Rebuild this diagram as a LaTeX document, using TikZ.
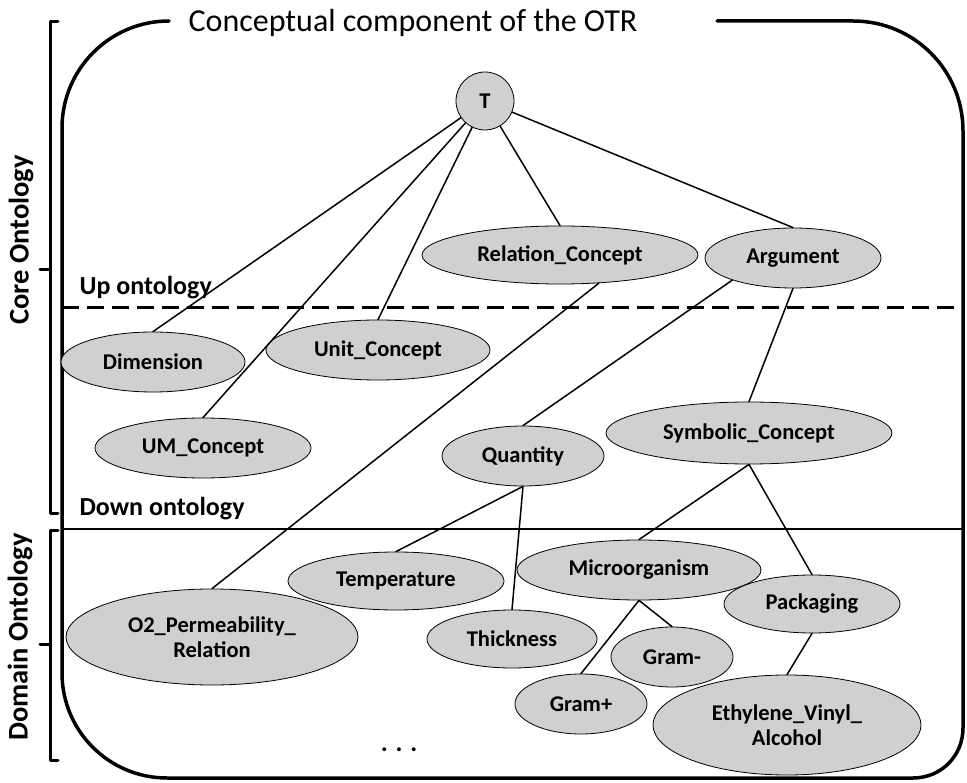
\documentclass[tikz,border=0pt]{standalone}
\usepackage{fontspec}
\setmainfont{Carlito}
\usetikzlibrary{shapes.geometric}
\definecolor{conceptgray}{RGB}{208,208,208}
\begin{document}
\begin{tikzpicture}[x=1pt,y=-1pt,line cap=round,line join=round]
	\tikzset{concept/.style={ellipse,draw,line width=.8pt,fill=conceptgray,inner sep=0pt,align=center,font=\fontsize{22.5}{25}\selectfont\bfseries},
	edge/.style={line width=1.5pt},
	frame/.style={line width=3.5pt},
	bracket/.style={line width=3pt},
	level style/.style={font=\fontsize{26}{30}\selectfont\bfseries},
	side style/.style={font=\fontsize{28.5}{32}\selectfont\bfseries,rotate=90}}
	\useasboundingbox (0,0) rectangle (967,783);
	% frame of the conceptual component
	\draw[frame] (717,21)--(853,21) .. controls (914,21) and (963,70) .. (963,131)--(963,728)
	.. controls (963,756) and (941,778) .. (913,778)--(167,778)
	.. controls (109,778) and (62,731) .. (62,673)--(62,128)
	.. controls (62,69) and (110,21) .. (169,21);
	\node[anchor=base,font=\fontsize{32}{36}\selectfont] (title) at (413,32) {Conceptual component of the OTR};
	% brackets
	\draw[bracket] (58,22)--(50,22)--(50,513)--(58,513) (50,270)--(40,270);
	\draw[bracket] (58,530)--(50,530)--(50,760)--(58,760) (50,644)--(40,644);
	\node[side style] (core) at (21,240) {Core Ontology};
	\node[side style] (domain) at (20,637) {Domain Ontology};
	% separating lines
	\draw[line width=3pt,line cap=butt,dash pattern=on 17pt off 8pt] (62,308)--(963,308);
	\draw[line width=2.5pt] (62,529)--(963,529);
	\node[level style,anchor=base west] (up) at (76,295) {Up ontology};
	\node[level style,anchor=base west] (down) at (76,515) {Down ontology};
	% concepts
	\node[concept,circle,minimum size=58pt] (top) at (485,101) {T};
	\node[concept,minimum width=276pt,minimum height=58pt] (rel) at (560,255) {Relation\_Concept};
	\node[concept,minimum width=176pt,minimum height=60pt] (arg) at (793,258) {Argument};
	\node[concept,minimum width=184pt,minimum height=60pt] (dim) at (153,362) {Dimension};
	\node[concept,minimum width=224pt,minimum height=60pt] (unit) at (378,350) {Unit\_Concept};
	\node[concept,minimum width=216pt,minimum height=60pt] (um) at (203,448) {UM\_Concept};
	\node[concept,minimum width=162pt,minimum height=60pt] (qty) at (523,456) {Quantity};
	\node[concept,minimum width=286pt,minimum height=62pt] (sym) at (749,433) {Symbolic\_Concept};
	\node[concept,minimum width=292pt,minimum height=96pt] (o2) at (212,637) {O2\_Permeability\_\\Relation};
	\node[concept,minimum width=216pt,minimum height=58pt] (temp) at (396,581) {Temperature};
	\node[concept,minimum width=244pt,minimum height=60pt] (micro) at (639,570) {Microorganism};
	\node[concept,minimum width=176pt,minimum height=58pt] (pack) at (812,604) {Packaging};
	\node[concept,minimum width=170pt,minimum height=58pt] (thick) at (512,639) {Thickness};
	\node[concept,minimum width=122pt,minimum height=60pt] (gminus) at (672,657) {Gram-};
	\node[concept,minimum width=132pt,minimum height=60pt] (gplus) at (581,704) {Gram+};
	\node[concept,minimum width=268pt,minimum height=100pt] (evoh) at (787,725) {Ethylene\_Vinyl\_\\Alcohol};
	\node[font=\fontsize{26}{30}\selectfont\bfseries] (more) at (399,750) {. . .};
	% links
	\draw[edge] (top)--(dim.north) (top)--(um.north) (top)--(unit.north)
	(top)--(rel.north) (top)--(arg.north);
	\draw[edge] (rel.-36)--(o2.north);
	\draw[edge] (arg.-160)--(qty.north) (arg.south)--(sym.north);
	\draw[edge] (qty.south)--(temp.north) (qty.south)--(thick.north);
	\draw[edge] (sym.south)--(micro.north) (sym.south)--(pack.north);
	\draw[edge] (micro.south)--(gplus.north) (micro.south)--(gminus.north);
	\draw[edge] (pack.south)--(evoh.north);
\end{tikzpicture}
\end{document}
